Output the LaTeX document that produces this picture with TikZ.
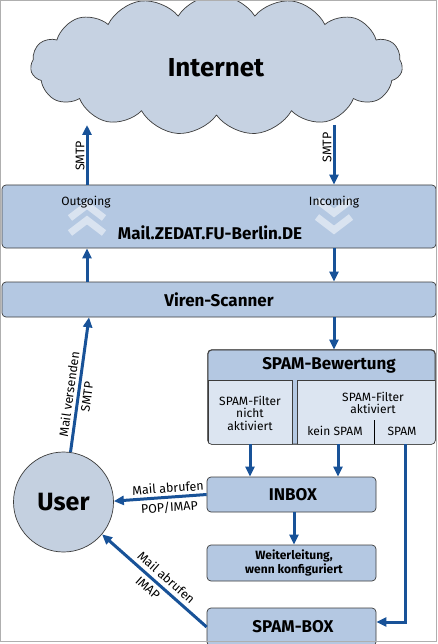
\documentclass[tikz,border=0pt]{standalone}
\usepackage{fontspec}
\setmainfont{Fira Sans}
\usetikzlibrary{shapes.symbols,arrows.meta,calc}
\definecolor{boxblue}{RGB}{180,200,226}
\definecolor{cloudblue}{RGB}{198,210,226}
\definecolor{userblue}{RGB}{196,208,224}
\definecolor{subblue}{RGB}{220,229,241}
\definecolor{arrowblue}{RGB}{24,82,152}
\definecolor{edgegray}{RGB}{60,60,60}
\definecolor{framegray}{RGB}{175,175,175}
\tikzset{
  box/.style={draw=edgegray, fill=boxblue, rounded corners=4pt, line width=0.7pt, inner sep=0pt},
  subbox/.style={draw=edgegray, fill=subblue, line width=0.7pt, inner sep=0pt},
  arr/.style={draw=arrowblue, line width=3pt, -{Triangle[length=10pt,width=9pt]}},
  chev/.style={draw=white, opacity=0.5, line width=7pt, miter limit=10},
  big/.style={font=\fontsize{17}{19}\selectfont\bfseries},
  mid/.style={font=\fontsize{12}{13.5}\selectfont\bfseries, align=center},
  small/.style={font=\fontsize{12}{12.5}\selectfont, align=center, inner sep=1pt},
  lab/.style={font=\fontsize{12.5}{13}\selectfont, inner sep=1pt},
}
\begin{document}
\begin{tikzpicture}[x=1pt,y=-1pt]
\useasboundingbox (0,0) rectangle (438,644);
\clip (0,0) rectangle (438,644);
\fill[white] (0,0) rectangle (438,644);

% cloud
\node[cloud, cloud puffs=15, cloud puff arc=115, aspect=2.9, draw=edgegray, fill=cloudblue,
      line width=0.7pt, minimum width=372pt, minimum height=140pt, inner sep=0pt] (cloud) at (216.5,65) {};
\node[font=\fontsize{26}{30}\selectfont\bfseries] (inet) at (216,68) {Internet};

% main boxes
\node[box, minimum width=434pt, minimum height=63pt] (mail) at (219,216.5) {};
\node[box, minimum width=434pt, minimum height=35pt] (viren) at (219,299.5) {};
\node[big] (virent) at (219,300) {Viren-Scanner};

% chevrons
\draw[chev] (70,218) -- (87,205) -- (104,218);
\draw[chev] (70,233) -- (87,220) -- (104,233);
\draw[chev] (317,200) -- (334,213) -- (351,200);
\draw[chev] (317,217) -- (334,230) -- (351,217);
\node[small] (outg) at (86,202) {Outgoing};
\node[small] (inc) at (334,202) {Incoming};
\node[big] (mailt) at (210,233) {Mail.ZEDAT.FU-Berlin.DE};

% SPAM-Bewertung
\node[box, minimum width=227pt, minimum height=94pt] (bew) at (321.5,397) {};
\begin{scope}
  \clip[rounded corners=4pt] (bew.north west) rectangle (bew.south east);
  \node[subbox, minimum width=84pt, minimum height=64pt] (subl) at (250,412) {};
  \node[subbox, minimum width=138pt, minimum height=64pt] (subr) at (366,412) {};
\end{scope}
\draw[edgegray, line width=0.7pt, rounded corners=4pt] (bew.north west) rectangle (bew.south east);
\coordinate (divtop) at (374,420);
\draw[black, line width=0.8pt] (divtop) -- (divtop |- bew.south);
\node[big] (bewt) at (329,365) {SPAM-Bewertung};
\node[small] (nicht) at (250,413) {SPAM-Filter\\nicht\\aktiviert};
\node[small] (aktiv) at (373,403) {SPAM-Filter\\aktiviert};
\node[small] (kein) at (335,431) {kein SPAM};
\node[small] (spam) at (402,431) {SPAM};

% lower boxes
\node[box, minimum width=169pt, minimum height=35pt] (inbox) at (291.5,494.5) {};
\node[big] (inboxt) at (293,495) {INBOX};
\node[box, minimum width=169pt, minimum height=36pt] (weiter) at (291.5,563) {};
\node[mid] (weitert) at (294,563) {Weiterleitung,\\wenn konfiguriert};
\node[box, minimum width=169pt, minimum height=38pt] (spambox) at (291.5,627) {};
\node[big] (spamboxt) at (293,627) {SPAM-BOX};

% user
\node[circle, draw=edgegray, fill=userblue, line width=0.7pt, minimum size=100pt, inner sep=0pt,
      font=\fontsize{25}{28}\selectfont\bfseries] (user) at (63.5,502) {User};

% connectors
\coordinate (xo) at (87,0);
\coordinate (xi) at (334,0);
\coordinate (otip) at (87,125);
\coordinate (istart) at (334,125);
\draw[arr] (mail.north -| xo) -- node[lab, rotate=90, anchor=south, xshift=-1pt] (smtp1) {SMTP} (otip);
\draw[arr] (istart) -- node[lab, rotate=90, anchor=south, pos=0.38] (smtp2) {SMTP} (mail.north -| xi);
\draw[arr] (viren.north -| xo) -- (mail.south -| xo);
\draw[arr] (mail.south -| xi) -- (viren.north -| xi);
\draw[arr] (viren.south -| xi) -- (bew.north -| xi);

\coordinate (x2) at (338,0);
\coordinate (x3) at (405,0);
\draw[arr] (subl.south) -- (inbox.north -| subl.south);
\draw[arr] (bew.south -| x2) -- (inbox.north -| x2);
\draw[arr] (bew.south -| x3) |- ([yshift=5pt]spambox.east);
\draw[arr] (inbox.south -| weitert) -- (weiter.north -| weitert);

\coordinate (xv) at (89,0);
\draw[arr] (user.82) -- node[lab, sloped, pos=0.42, above=2pt] (mv) {Mail versenden}
  node[lab, sloped, pos=0.42, below=2pt] (smtp3) {SMTP} (viren.south -| xv);
\draw[arr] (inbox.west) -- node[lab, sloped, pos=0.41, above=2pt] (ma1) {Mail abrufen}
  node[lab, sloped, pos=0.41, below=2pt] (pop) {POP/IMAP} (user.1);
\draw[arr] (spambox.west) -- node[lab, sloped, pos=0.45, above=3pt] (ma2) {Mail abrufen}
  node[lab, sloped, pos=0.5, below=3pt] (imap) {IMAP} (user.-40);

% frame
\draw[framegray, line width=1pt] (0.5,0.5) rectangle (436.5,641.5);
\end{tikzpicture}
\end{document}
